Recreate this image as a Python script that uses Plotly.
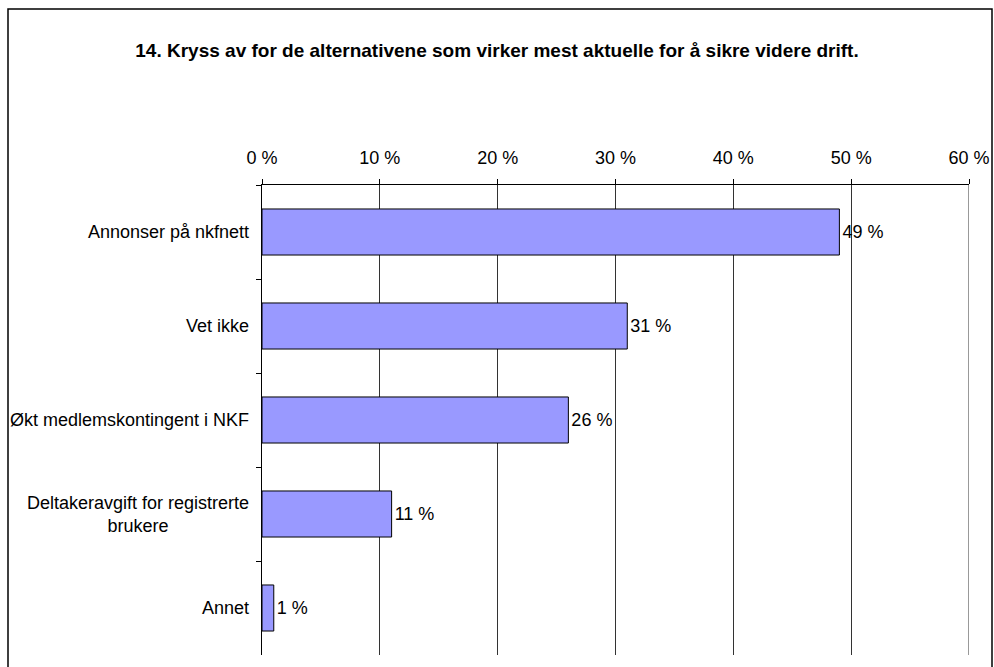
import plotly.graph_objects as go

# Survey answers (share of respondents, %)
categories = [
    "Annonser på nkfnett",
    "Vet ikke",
    "Økt medlemskontingent i NKF",
    "Deltakeravgift for registrerte<br>brukere",
    "Annet",
]
values = [49, 31, 26, 11, 1]
tick_values = [0, 10, 20, 30, 40, 50, 60]
tick_labels = [f"{v} %" for v in tick_values]

FONT = "Liberation Sans, Arial, sans-serif"
FS = 18
GRID = "#333333"

fig = go.Figure()
fig.add_trace(go.Bar(
    y=categories,
    x=values,
    orientation="h",
    marker=dict(color="#9999FF", line=dict(color="black", width=1)),
    text=[f"{v} %" for v in values],
    textposition="outside",
    textfont=dict(family=FONT, size=FS, color="black"),
    cliponaxis=False,
    hoverinfo="skip",
))

# Category labels, centred line by line and right-aligned against the axis
for cat in categories:
    fig.add_annotation(
        x=0, xref="paper", y=cat, yref="y",
        text=cat, showarrow=False,
        xanchor="right", yanchor="middle", align="center",
        xshift=-11,
        font=dict(family=FONT, size=FS, color="black"),
    )

# Gridline at the far end of the value axis (edge of the plot area)
fig.add_shape(type="line", xref="x", yref="paper",
              x0=tick_values[-1], x1=tick_values[-1], y0=0, y1=1,
              line=dict(color=GRID, width=1), layer="below")

# Outer frame of the chart
W, H = 994, 667
l, r, t, b = 262, 25, 185, 12
pw, ph = W - l - r, H - t - b
def px_x(x):
    return (x - l) / pw
def px_y(y):
    return (H - b - y) / ph
fig.add_shape(type="rect", xref="paper", yref="paper",
              x0=px_x(8), x1=px_x(992), y0=px_y(700), y1=px_y(9),
              line=dict(color="black", width=1.5), fillcolor="rgba(0,0,0,0)",
              layer="below")

fig.update_layout(
    width=W, height=H,
    margin=dict(l=l, r=r, t=t, b=b, autoexpand=False),
    paper_bgcolor="white",
    plot_bgcolor="white",
    showlegend=False,
    bargap=0.51,
    font=dict(family=FONT, size=FS, color="black"),
    title=dict(
        text="<b>14. Kryss av for de alternativene som virker mest aktuelle for å sikre videre drift.</b>",
        x=0.5, xanchor="center", xref="container",
        y=1 - 50 / H, yanchor="middle", yref="container",
        font=dict(family=FONT, size=19, color="black"),
    ),
    xaxis=dict(
        side="top",
        range=[0, 60],
        tickvals=tick_values,
        ticktext=tick_labels,
        ticks="outside", ticklen=5, tickcolor="black",
        ticklabelstandoff=8,
        automargin=False,
        showline=True, linecolor="black", linewidth=1,
        showgrid=True, gridcolor=GRID, gridwidth=1,
        zeroline=False,
        tickfont=dict(family=FONT, size=FS, color="black"),
        fixedrange=True,
    ),
    yaxis=dict(
        categoryorder="array",
        categoryarray=categories,
        autorange="reversed",
        showticklabels=False,
        automargin=False,
        ticks="outside", ticklen=5, tickcolor="black",
        tickson="boundaries",
        showline=True, linecolor="black", linewidth=1,
        showgrid=False, zeroline=False,
        fixedrange=True,
    ),
)

fig.write_html("out.html")
